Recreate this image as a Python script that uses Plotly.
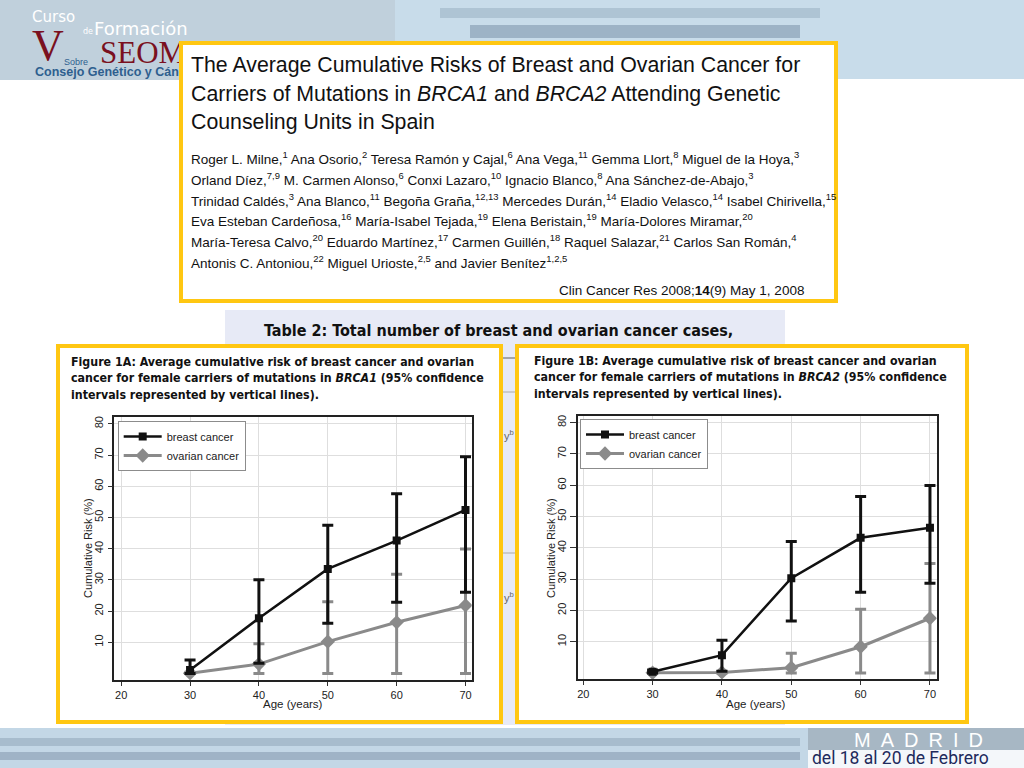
import plotly.graph_objects as go

# ---------------- data ----------------
ages = [30, 40, 50, 60, 70]

brca1_breast = [1.1, 17.7, 33.5, 42.6, 52.4]
brca1_breast_lo = [0.0, 3.3, 16.1, 22.8, 26.0]
brca1_breast_hi = [4.3, 30.0, 47.5, 57.6, 69.5]
brca1_ovarian = [0.1, 3.0, 10.2, 16.4, 21.8]
brca1_ovarian_lo = [0.0, 0.0, 0.0, 0.0, 0.0]
brca1_ovarian_hi = [0.4, 9.5, 23.0, 31.8, 39.9]

brca2_breast = [0.4, 5.7, 30.3, 43.2, 46.4]
brca2_breast_lo = [0.0, 0.6, 16.6, 25.8, 28.7]
brca2_breast_hi = [1.0, 10.5, 42.0, 56.4, 59.9]
brca2_ovarian = [0.1, 0.2, 1.7, 8.4, 17.5]
brca2_ovarian_lo = [0.0, 0.0, 0.0, 0.0, 0.0]
brca2_ovarian_hi = [0.3, 0.5, 6.3, 20.4, 35.0]

x_ticks = [20, 30, 40, 50, 60, 70]
y_ticks = [10, 20, 30, 40, 50, 60, 70, 80]
series_names = ["breast cancer", "ovarian cancer"]
x_title = "Age (years)"
y_title = "Cumulative Risk (%)"

W, H = 1024, 768
def px(x):
    return x / W
def py(y):
    return 1 - y / H

BLACK = "#111111"
GRAY = "#8a8a8a"
YELLOW = "#FFC712"
ARIAL = "Liberation Sans, Arial, sans-serif"
VERD = "DejaVu Sans Condensed, DejaVu Sans, Verdana, sans-serif"

fig = go.Figure()

def add_pair(xa, ya, leg, b, blo, bhi, o, olo, ohi):
    fig.add_trace(go.Scatter(
        x=ages, y=o, mode="lines+markers", name=series_names[1],
        xaxis=xa, yaxis=ya, legend=leg, legendrank=2,
        line=dict(color=GRAY, width=3),
        marker=dict(symbol="diamond", size=11, color=GRAY),
        error_y=dict(type="data", symmetric=False,
                     array=[h - v for h, v in zip(ohi, o)],
                     arrayminus=[v - l for v, l in zip(o, olo)],
                     color=GRAY, thickness=3, width=5.5),
    ))
    fig.add_trace(go.Scatter(
        x=ages, y=b, mode="lines+markers", name=series_names[0],
        xaxis=xa, yaxis=ya, legend=leg, legendrank=1,
        line=dict(color=BLACK, width=2.5),
        marker=dict(symbol="square", size=8, color=BLACK),
        error_y=dict(type="data", symmetric=False,
                     array=[h - v for h, v in zip(bhi, b)],
                     arrayminus=[v - l for v, l in zip(b, blo)],
                     color=BLACK, thickness=3, width=5.5),
    ))

add_pair("x", "y", "legend", brca1_breast, brca1_breast_lo, brca1_breast_hi,
         brca1_ovarian, brca1_ovarian_lo, brca1_ovarian_hi)
add_pair("x2", "y2", "legend2", brca2_breast, brca2_breast_lo, brca2_breast_hi,
         brca2_ovarian, brca2_ovarian_lo, brca2_ovarian_hi)

axis_common = dict(showline=True, mirror=True, linecolor="#222222", linewidth=1.5,
                   showgrid=True, gridcolor="#dedede", gridwidth=1, zeroline=False,
                   ticks="outside", tickcolor="#333333",
                   tickfont=dict(family=ARIAL, size=11, color="#222"))

legend_common = dict(xanchor="left", yanchor="top", bgcolor="white",
                     bordercolor="#8c8c8c", borderwidth=1,
                     font=dict(family=ARIAL, size=11, color="#222"),
                     tracegroupgap=0, itemwidth=38)

fig.update_layout(
    width=W, height=H, margin=dict(l=0, r=0, t=0, b=0),
    paper_bgcolor="white", plot_bgcolor="white", showlegend=True,
    xaxis=dict(domain=[px(114.3), px(471.7)], range=[19.0, 70.9], anchor="y",
               tickvals=x_ticks, ticklen=4, **axis_common),
    yaxis=dict(domain=[py(680), py(416.7)], range=[-2.1, 82.3], anchor="x",
               tickvals=y_ticks, ticklen=5, tickangle=-90, **axis_common),
    xaxis2=dict(domain=[px(577.7), px(936.7)], range=[19.2, 70.97], anchor="y2",
                tickvals=x_ticks, ticklen=4, **axis_common),
    yaxis2=dict(domain=[py(679.3), py(415.7)], range=[-2.0, 82.2], anchor="x2",
                tickvals=y_ticks, ticklen=6, tickangle=-90, **axis_common),
    legend=dict(x=px(117.7), y=py(421), **legend_common),
    legend2=dict(x=px(580), y=py(419), **legend_common),
)

shapes = []
def rect(x0, y0, x1, y1, fill, line=None, lw=0, layer="below"):
    shapes.append(dict(type="rect", xref="paper", yref="paper",
                       x0=px(x0), x1=px(x1), y0=py(y1), y1=py(y0),
                       fillcolor=fill, line=dict(color=line or fill, width=lw), layer=layer))

# header and footer bands
rect(0, 0, 1024, 79, "#c8dcea")
rect(0, 0, 395, 80, "#c0d0dc")
rect(440, 8, 820, 18, "#aec4d4")
rect(470, 25, 800, 38, "#9db3c6")
rect(0, 728, 1024, 768, "#c3d7e6")
rect(0, 738, 800, 746, "#a7bccd")
rect(0, 752, 800, 760, "#9fb3c6")
rect(808, 728, 1024, 750, "#a7b7c4")
rect(808, 750, 1024, 768, "#f4f7fa")
# table behind the figures
rect(225, 310, 785, 725, "#e7eaf6")
for yy, col, lw in [(358, "#777", 1.2), (392, "#aaa", 1), (553, "#aaa", 1)]:
    shapes.append(dict(type="line", xref="paper", yref="paper", x0=px(500), x1=px(518),
                       y0=py(yy), y1=py(yy), line=dict(color=col, width=lw), layer="below"))
# figure boxes
rect(58, 346, 501, 722, "white", YELLOW, 4)
rect(517, 346, 967, 722, "white", YELLOW, 4)
fig.update_layout(shapes=shapes)

ann = []
def text(x, y, s, size, color="#111", family=ARIAL, xanchor="left", **kw):
    ann.append(dict(xref="paper", yref="paper", x=px(x), y=py(y), text=s,
                    showarrow=False, xanchor=xanchor, yanchor="middle",
                    font=dict(size=size, color=color, family=family), **kw))

# logo
text(30, 17, "Curso", 15, "white", "DejaVu Sans, sans-serif")
text(81, 31, "de", 8, "white", "DejaVu Sans, sans-serif")
text(92, 29, "Formación", 18, "white", "DejaVu Sans, sans-serif")
text(30, 45, "V", 44, "#7a1020", "Liberation Serif, serif")
text(98, 53, "SEOM", 31, "#7a1020", "Liberation Serif, serif")
text(62, 62, "Sobre", 9, "#2e5f8f", ARIAL)
text(33, 72, "<b>Consejo Genético y Cáncer</b>", 12.5, "#2e5f8f", ARIAL)

# title box (covers the logo's tail)
ann.append(dict(xref="paper", yref="paper", x=px(508.5), y=py(172), text=" ",
                showarrow=False, xanchor="center", yanchor="middle",
                width=651, height=254, bgcolor="white", bordercolor=YELLOW,
                borderwidth=4, borderpad=0))

title_lines = [
    "The Average Cumulative Risks of Breast and Ovarian Cancer for",
    "Carriers of Mutations in <i>BRCA1</i> and <i>BRCA2</i> Attending Genetic",
    "Counseling Units in Spain",
]
for i, s in enumerate(title_lines):
    text(189, 65 + i * 28.7, s, 21.3, "#111")

author_lines = [
    "Roger L. Milne,<sup>1</sup> Ana Osorio,<sup>2</sup> Teresa Ramón y Cajal,<sup>6</sup> Ana Vega,<sup>11</sup> Gemma Llort,<sup>8</sup> Miguel de la Hoya,<sup>3</sup>",
    "Orland Díez,<sup>7,9</sup> M. Carmen Alonso,<sup>6</sup> Conxi Lazaro,<sup>10</sup> Ignacio Blanco,<sup>8</sup> Ana Sánchez-de-Abajo,<sup>3</sup>",
    "Trinidad Caldés,<sup>3</sup> Ana Blanco,<sup>11</sup> Begoña Graña,<sup>12,13</sup> Mercedes Durán,<sup>14</sup> Eladio Velasco,<sup>14</sup> Isabel Chirivella,<sup>15</sup>",
    "Eva Esteban Cardeñosa,<sup>16</sup> María-Isabel Tejada,<sup>19</sup> Elena Beristain,<sup>19</sup> María-Dolores Miramar,<sup>20</sup>",
    "María-Teresa Calvo,<sup>20</sup> Eduardo Martínez,<sup>17</sup> Carmen Guillén,<sup>18</sup> Raquel Salazar,<sup>21</sup> Carlos San Román,<sup>4</sup>",
    "Antonis C. Antoniou,<sup>22</sup> Miguel Urioste,<sup>2,5</sup> and Javier Benítez<sup>1,2,5</sup>",
]
for i, s in enumerate(author_lines):
    text(189, 158 + i * 20.8, s, 13.5, "#111")

text(806, 290, "Clin Cancer Res 2008;<b>14</b>(9) May 1, 2008", 13.5, "#111", xanchor="right")

# table title visible above the figure boxes
text(262, 330, "<b>Table 2: Total number of breast and ovarian cancer cases,</b>", 16, "#111", VERD)
text(502, 435, "y<sup>b</sup>", 11, "#666", ARIAL)
text(502, 597, "y<sup>b</sup>", 11, "#666", ARIAL)

# figure captions
cap_a = [
    "<b>Figure 1A: Average cumulative risk of breast cancer and ovarian</b>",
    "<b>cancer for female carriers of mutations in <i>BRCA1</i> (95% confidence</b>",
    "<b>intervals represented by vertical lines).</b>",
]
cap_b = [
    "<b>Figure 1B: Average cumulative risk of breast cancer and ovarian</b>",
    "<b>cancer for female carriers of mutations in <i>BRCA2</i> (95% confidence</b>",
    "<b>intervals represented by vertical lines).</b>",
]
for i, s in enumerate(cap_a):
    text(69, 362 + i * 16.3, s, 12.3, "#111", VERD)
for i, s in enumerate(cap_b):
    text(532, 361 + i * 16.3, s, 12.3, "#111", VERD)

# axis titles
text(88, 548, y_title, 11, "#222", ARIAL, xanchor="center", textangle=-90)
text(293, 704, x_title, 11.5, "#222", ARIAL, xanchor="center")
text(551, 548, y_title, 11, "#222", ARIAL, xanchor="center", textangle=-90)
text(756, 704, x_title, 11.5, "#222", ARIAL, xanchor="center")

# footer text
text(852, 740, "M\u2002A\u2002D\u2002R\u2002I\u2002D", 20, "white", ARIAL)
text(810, 758, "del 18 al 20 de Febrero", 17.5, "#1e2a5c", "Liberation Sans Narrow, Roboto, sans-serif")

fig.update_layout(annotations=ann)

fig.write_html("out.html", config={"displayModeBar": False},
               post_script="document.body.style.margin='0';")
